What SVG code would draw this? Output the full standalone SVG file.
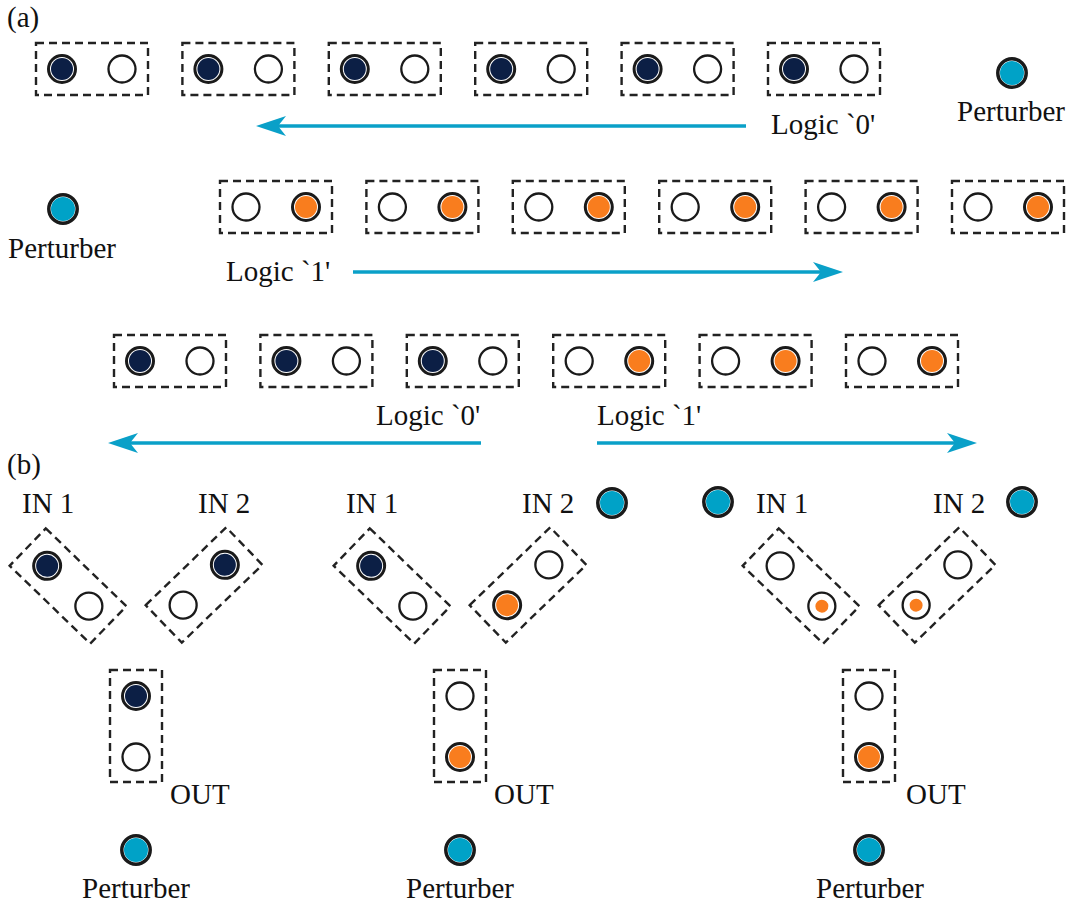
<svg xmlns="http://www.w3.org/2000/svg" width="1072" height="907" viewBox="0 0 1072 907">
  <style>
    text { font-family: "Liberation Serif", "Times New Roman", serif; font-size: 29px; fill: #111; }
    .cell { fill: none; stroke: #222; stroke-width: 2.4; stroke-dasharray: 8 5; }
    .empty { fill: #fff; stroke: #1a1a1a; stroke-width: 2.3; }
    .ring { fill: #fff; stroke: #1a1a1a; stroke-width: 3; }
    .prt-ring { fill: #fff; stroke: #1a1a1a; stroke-width: 3.5; }
    .navy { fill: #0c1f45; }
    .orange { fill: #f97d1e; }
    .cyan { fill: #00a2c7; }
    .flow { stroke: #0aa0c8; stroke-width: 3.5; fill: none; }
    .head { fill: #0aa0c8; }
  </style>
  <defs>
    <!-- magnet states -->
    <g id="c0"><circle r="13.5" class="empty"/></g>
    <g id="cNavy"><circle r="13.5" class="ring"/><circle r="11" class="navy"/></g>
    <g id="cOrange"><circle r="13.5" class="ring"/><circle r="11" class="orange"/></g>
    <g id="cDot"><circle r="13.5" class="empty"/><circle r="6.5" class="orange"/></g>
    <g id="perturber"><circle r="14.2" class="prt-ring"/><circle r="12" class="cyan"/></g>
    <!-- dashed cell outline, centred on origin -->
    <rect id="box" x="-56" y="-26" width="112" height="52" class="cell"/>
    <!-- bit cells: left/right magnet -->
    <g id="bit0"><use href="#box"/><use href="#cNavy" x="-30"/><use href="#c0" x="30"/></g>
    <g id="bit1"><use href="#box"/><use href="#c0" x="-30"/><use href="#cOrange" x="30"/></g>
    <g id="bitOpen"><use href="#box"/><use href="#c0" x="-29"/><use href="#c0" x="29"/></g>
    <g id="vbox"><rect x="-26" y="-56" width="52" height="112" class="cell"/></g>
    <path id="arrowL" d="M0,0 L30,-10 L22,0 L30,10 Z" class="head"/>
    <path id="arrowR" d="M0,0 L-30,-10 L-22,0 L-30,10 Z" class="head"/>
  </defs>

  <!-- panel (a) -->
  <text x="7" y="27">(a)</text>

  <g id="row1">
    <use href="#bit0" x="92" y="69"/>
    <use href="#bit0" x="238.4" y="69"/>
    <use href="#bit0" x="384.8" y="69"/>
    <use href="#bit0" x="531.2" y="69"/>
    <use href="#bit0" x="677.6" y="69"/>
    <use href="#bit0" x="824" y="69"/>
  </g>
  <g id="perturber-a1">
    <use href="#perturber" x="1012" y="73"/>
    <text x="1011" y="121" text-anchor="middle">Perturber</text>
  </g>
  <text id="label-row1" x="771" y="134">Logic `0'</text>

  <g id="row2">
    <use href="#bit1" x="276" y="207"/>
    <use href="#bit1" x="422.4" y="207"/>
    <use href="#bit1" x="568.8" y="207"/>
    <use href="#bit1" x="715.2" y="207"/>
    <use href="#bit1" x="861.6" y="207"/>
    <use href="#bit1" x="1008" y="207"/>
  </g>
  <g id="perturber-a2">
    <use href="#perturber" x="63" y="209"/>
    <text x="62" y="258" text-anchor="middle">Perturber</text>
  </g>
  <text id="label-row2" x="226" y="281">Logic `1'</text>

  <g id="row3">
    <use href="#bit0" x="170" y="361"/>
    <use href="#bit0" x="316.4" y="361"/>
    <use href="#bit0" x="462.8" y="361"/>
    <use href="#bit1" x="609.2" y="361"/>
    <use href="#bit1" x="755.6" y="361"/>
    <use href="#bit1" x="902" y="361"/>
  </g>
  <text id="label-row3a" x="376" y="425">Logic `0'</text>
  <text id="label-row3b" x="597" y="425">Logic `1'</text>

  <g id="connectors">
    <line x1="746" y1="126" x2="275" y2="126" class="flow"/>
    <use href="#arrowL" x="256" y="126"/>
    <line x1="353" y1="272" x2="823" y2="272" class="flow"/>
    <use href="#arrowR" x="843" y="272"/>
    <line x1="481" y1="443" x2="128" y2="443" class="flow"/>
    <use href="#arrowL" x="108" y="443"/>
    <line x1="597" y1="443" x2="957" y2="443" class="flow"/>
    <use href="#arrowR" x="977" y="443"/>
  </g>

  <!-- panel (b) -->
  <text x="7" y="474">(b)</text>

  <!-- gate 1 -->
  <g id="gate1">
    <text x="22" y="513">IN 1</text>
    <text x="198" y="513">IN 2</text>
    <g transform="translate(68,586) rotate(44)">
      <use href="#box"/><use href="#cNavy" x="-29"/><use href="#c0" x="29"/>
    </g>
    <g transform="translate(204,585) rotate(-44)">
      <use href="#box"/><use href="#c0" x="-29"/><use href="#cNavy" x="29"/>
    </g>
    <g transform="translate(136,726)">
      <use href="#vbox"/><use href="#cNavy" y="-30"/><use href="#c0" y="31"/>
    </g>
    <text x="170" y="804">OUT</text>
    <use href="#perturber" x="136" y="850"/>
    <text x="136" y="898" text-anchor="middle">Perturber</text>
  </g>

  <!-- gate 2 -->
  <g id="gate2">
    <text x="346" y="513">IN 1</text>
    <text x="522" y="513">IN 2</text>
    <use href="#perturber" x="612" y="503"/>
    <g transform="translate(392,586) rotate(44)">
      <use href="#box"/><use href="#cNavy" x="-29"/><use href="#c0" x="29"/>
    </g>
    <g transform="translate(528,585) rotate(-44)">
      <use href="#box"/><use href="#cOrange" x="-29"/><use href="#c0" x="29"/>
    </g>
    <g transform="translate(460,726)">
      <use href="#vbox"/><use href="#c0" y="-30"/><use href="#cOrange" y="31"/>
    </g>
    <text x="494" y="804">OUT</text>
    <use href="#perturber" x="460" y="850"/>
    <text x="460" y="898" text-anchor="middle">Perturber</text>
  </g>

  <!-- gate 3 -->
  <g id="gate3">
    <use href="#perturber" x="718" y="502"/>
    <text x="756" y="513">IN 1</text>
    <text x="933" y="513">IN 2</text>
    <use href="#perturber" x="1022" y="502"/>
    <g transform="translate(801,586) rotate(44)">
      <use href="#box"/><use href="#c0" x="-29"/><use href="#cDot" x="29"/>
    </g>
    <g transform="translate(937,585) rotate(-44)">
      <use href="#box"/><use href="#cDot" x="-29"/><use href="#c0" x="29"/>
    </g>
    <g transform="translate(869,726)">
      <use href="#vbox"/><use href="#c0" y="-30"/><use href="#cOrange" y="31"/>
    </g>
    <text x="906" y="804">OUT</text>
    <use href="#perturber" x="869" y="850"/>
    <text x="870" y="898" text-anchor="middle">Perturber</text>
  </g>
</svg>
